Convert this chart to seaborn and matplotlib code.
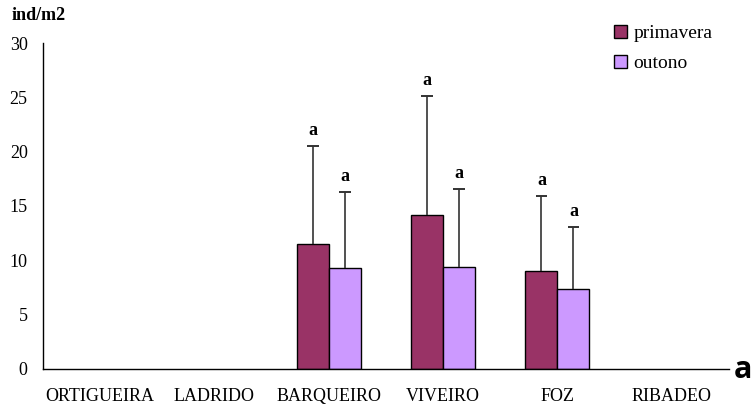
import numpy as np
import pandas as pd
import matplotlib
matplotlib.use('Agg')
import matplotlib.pyplot as plt
import seaborn as sns

# densities (ind/m2) per site and season
sites = ['ORTIGUEIRA', 'LADRIDO', 'BARQUEIRO', 'VIVEIRO', 'FOZ', 'RIBADEO']
primavera = [np.nan, np.nan, 11.5, 14.2, 9.0, np.nan]
primavera_err = [np.nan, np.nan, 9.0, 10.9, 6.9, np.nan]
outono = [np.nan, np.nan, 9.3, 9.4, 7.4, np.nan]
outono_err = [np.nan, np.nan, 7.0, 7.2, 5.7, np.nan]
letters = ['a', 'a', 'a', 'a', 'a', 'a']

df = pd.DataFrame({
    'site': sites * 2,
    'season': ['primavera'] * 6 + ['outono'] * 6,
    'value': primavera + outono,
    'err': primavera_err + outono_err,
})

sns.set_style('white')
plt.rcParams['font.family'] = ['Liberation Serif', 'DejaVu Serif']
plt.rcParams['text.color'] = 'black'
plt.rcParams['xtick.color'] = 'black'
plt.rcParams['ytick.color'] = 'black'

fig = plt.figure(figsize=(7.53, 4.12), dpi=100)
ax = fig.add_axes([0.0571, 0.1044, 0.911, 0.7912])

colors = {'primavera': '#993366', 'outono': '#CC99FF'}
sns.barplot(data=df.dropna(), x='site', y='value', hue='season', order=sites,
            hue_order=['primavera', 'outono'], palette=colors, width=0.56,
            errorbar=None, edgecolor='black', linewidth=1.0, saturation=1, ax=ax)

# one-sided error bars (upper only) plus letters
offsets = {'primavera': -0.14, 'outono': 0.14}
cap = 0.05
for season, vals, errs in [('primavera', primavera, primavera_err), ('outono', outono, outono_err)]:
    for i, (v, e) in enumerate(zip(vals, errs)):
        if np.isnan(v):
            continue
        x = i + offsets[season]
        ax.vlines(x, v, v + e, color='#333333', linewidth=1.2, zorder=3)
        ax.hlines(v + e, x - cap, x + cap, color='#333333', linewidth=1.4, zorder=3)
        ax.annotate(letters[i], (x, v + e), xytext=(0, 5), textcoords='offset points',
                    ha='center', va='bottom', fontsize=13, fontweight='bold')

ax.set_xlim(-0.5, 5.5)
ax.set_ylim(0, 30)
ax.set_yticks([0, 5, 10, 15, 20, 25, 30])
ax.set_xticks(np.arange(-0.5, 6, 1))
ax.set_xticklabels([])
ax.set_xticks(np.arange(6), minor=True)
ax.set_xticklabels(sites, minor=True, fontsize=13)
ax.tick_params(axis='x', which='minor', length=0, pad=14)
ax.tick_params(axis='x', which='major', direction='out', length=5, width=1, color='black')
ax.tick_params(axis='y', direction='out', length=5, width=1, color='black', labelsize=13, pad=6)
ax.set_xlabel('')
ax.set_ylabel('')
for s in ['top', 'right']:
    ax.spines[s].set_visible(False)
for s in ['left', 'bottom']:
    ax.spines[s].set_color('black')
    ax.spines[s].set_linewidth(1.0)

leg = ax.legend(loc='upper left', bbox_to_anchor=(0.807, 1.11), frameon=False,
                fontsize=14, handlelength=0.65, handleheight=0.65, handletextpad=0.35,
                labelspacing=0.65)

fig.text(0.016, 0.963, 'ind/m2', fontsize=13, fontweight='bold', va='center')
fig.text(0.974, 0.065, 'a', fontsize=22, fontweight='bold', va='bottom', ha='left',
         family=['Open Sans', 'DejaVu Sans'])

fig.savefig('out.png', dpi=100)
